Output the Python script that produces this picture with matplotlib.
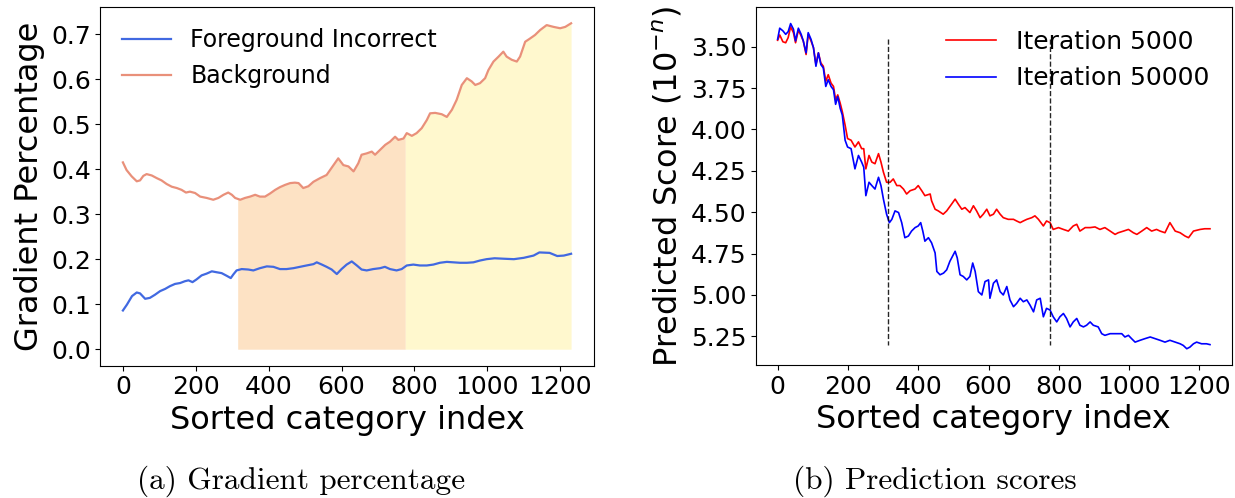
import numpy as np
import matplotlib
matplotlib.use("Agg")
import matplotlib.pyplot as plt
from matplotlib.ticker import FormatStrFormatter

# ---------------- data ----------------
bg_x = [0, 10, 24, 38, 47, 56, 65, 79, 93, 106, 120, 134, 148, 161, 173, 184, 198, 212, 230, 248,
        262, 276, 289, 299, 308, 322, 335, 349, 363, 376, 390, 404, 418, 431, 445, 459, 472, 482, 495, 509,
        523, 541, 559, 578, 591, 605, 619, 633, 646, 655, 669, 683, 692, 706, 720, 733, 747, 756, 770, 779,
        793, 806, 820, 834, 843, 857, 875, 889, 903, 916, 930, 944, 957, 967, 980, 994, 1003, 1017, 1031, 1044,
        1053, 1067, 1081, 1090, 1104, 1117, 1131, 1145, 1163, 1182, 1200, 1214, 1230]
bg_y = [0.415, 0.398, 0.384, 0.373, 0.375, 0.385, 0.389, 0.386, 0.380, 0.375, 0.367, 0.361, 0.358, 0.354, 0.348, 0.350, 0.347, 0.339, 0.336, 0.332,
        0.336, 0.343, 0.348, 0.343, 0.336, 0.332, 0.336, 0.339, 0.343, 0.339, 0.339, 0.346, 0.354, 0.360, 0.365, 0.369, 0.370, 0.369, 0.358, 0.362,
        0.372, 0.380, 0.387, 0.409, 0.424, 0.409, 0.406, 0.395, 0.413, 0.432, 0.435, 0.439, 0.432, 0.443, 0.454, 0.461, 0.472, 0.465, 0.468, 0.480,
        0.474, 0.480, 0.491, 0.509, 0.524, 0.525, 0.522, 0.516, 0.532, 0.554, 0.587, 0.602, 0.595, 0.587, 0.591, 0.602, 0.620, 0.639, 0.650, 0.661,
        0.650, 0.643, 0.639, 0.650, 0.683, 0.690, 0.698, 0.709, 0.720, 0.716, 0.713, 0.716, 0.724]

fg_x = [0, 11, 25, 38, 47, 61, 74, 88, 102, 116, 129, 143, 157, 170, 180, 191, 202, 216, 230, 244,
        257, 271, 285, 296, 303, 312, 326, 344, 358, 376, 395, 413, 431, 449, 468, 486, 504, 523, 532, 546,
        559, 573, 587, 600, 614, 628, 642, 655, 669, 687, 706, 719, 733, 751, 765, 779, 797, 815, 834, 852,
        870, 889, 907, 925, 944, 962, 980, 998, 1020, 1045, 1073, 1100, 1127, 1143, 1171, 1192, 1210, 1230]
fg_y = [0.086, 0.099, 0.118, 0.126, 0.124, 0.112, 0.114, 0.121, 0.129, 0.134, 0.140, 0.145, 0.147, 0.151, 0.153, 0.149, 0.155, 0.164, 0.168, 0.173,
        0.171, 0.169, 0.163, 0.158, 0.166, 0.175, 0.178, 0.177, 0.175, 0.180, 0.184, 0.183, 0.178, 0.178, 0.180, 0.183, 0.186, 0.189, 0.193, 0.188,
        0.183, 0.177, 0.167, 0.178, 0.188, 0.195, 0.186, 0.177, 0.175, 0.178, 0.180, 0.183, 0.178, 0.175, 0.178, 0.186, 0.188, 0.186, 0.186, 0.188,
        0.192, 0.194, 0.193, 0.192, 0.192, 0.193, 0.197, 0.200, 0.202, 0.201, 0.200, 0.203, 0.208, 0.215, 0.214, 0.207, 0.208, 0.212]

region_edges = [315, 775, 1230]

it5k_x = [0, 6, 15, 23, 30, 37, 45, 51, 59, 67, 73, 81, 87, 95, 102, 109, 116, 123, 130, 137,
          144, 152, 159, 165, 171, 178, 184, 192, 199, 209, 220, 230, 239, 245, 251, 260, 268, 277, 287, 294,
          301, 310, 320, 329, 339, 348, 358, 367, 377, 391, 400, 410, 419, 434, 438, 448, 457, 471, 481, 495,
          505, 514, 524, 533, 547, 557, 566, 576, 585, 595, 604, 614, 623, 633, 642, 656, 671, 680, 690, 699,
          709, 723, 732, 742, 756, 765, 775, 784, 799, 813, 827, 841, 851, 860, 875, 889, 903, 917, 931, 946,
          960, 969, 984, 998, 1012, 1022, 1036, 1050, 1064, 1078, 1088, 1102, 1116, 1131, 1145, 1159, 1169, 1183, 1202, 1215,
          1230]
it5k_y = [3.461, 3.429, 3.470, 3.476, 3.445, 3.380, 3.415, 3.476, 3.400, 3.435, 3.465, 3.547, 3.425, 3.465, 3.506, 3.608, 3.537, 3.598, 3.618, 3.709,
          3.669, 3.720, 3.740, 3.821, 3.791, 3.841, 3.892, 3.974, 4.055, 4.065, 4.106, 4.075, 4.116, 4.116, 4.238, 4.157, 4.197, 4.207, 4.146, 4.197,
          4.258, 4.319, 4.319, 4.299, 4.339, 4.339, 4.360, 4.390, 4.370, 4.360, 4.339, 4.370, 4.400, 4.390, 4.431, 4.482, 4.492, 4.512, 4.492, 4.451,
          4.421, 4.451, 4.482, 4.472, 4.502, 4.461, 4.492, 4.533, 4.512, 4.482, 4.522, 4.512, 4.482, 4.512, 4.533, 4.543, 4.543, 4.553, 4.563, 4.553,
          4.543, 4.533, 4.522, 4.543, 4.583, 4.553, 4.563, 4.604, 4.593, 4.604, 4.614, 4.583, 4.573, 4.614, 4.593, 4.593, 4.589, 4.604, 4.593, 4.614,
          4.634, 4.624, 4.614, 4.604, 4.624, 4.634, 4.614, 4.593, 4.614, 4.604, 4.614, 4.624, 4.563, 4.614, 4.624, 4.644, 4.654, 4.614, 4.604, 4.600,
          4.600]

it50k_x = [0, 6, 15, 23, 30, 37, 45, 51, 59, 67, 73, 81, 87, 95, 102, 109, 116, 123, 130, 137,
           144, 152, 159, 165, 171, 178, 184, 192, 199, 209, 220, 230, 239, 245, 251, 260, 268, 277, 287, 294,
           301, 310, 318, 325, 334, 344, 353, 362, 372, 381, 391, 400, 407, 413, 419, 429, 438, 448, 453, 462,
           472, 481, 490, 500, 505, 511, 519, 528, 538, 547, 555, 562, 571, 581, 590, 600, 604, 614, 623, 633,
           642, 652, 661, 671, 680, 690, 699, 709, 718, 728, 737, 747, 756, 765, 775, 784, 794, 803, 813, 822,
           832, 841, 851, 860, 870, 879, 889, 898, 912, 922, 931, 946, 965, 979, 988, 998, 1007, 1017, 1031, 1045,
           1060, 1074, 1088, 1102, 1116, 1131, 1145, 1154, 1164, 1173, 1183, 1192, 1206, 1220, 1230]
it50k_y = [3.455, 3.388, 3.404, 3.425, 3.409, 3.360, 3.394, 3.465, 3.388, 3.425, 3.465, 3.537, 3.415, 3.455, 3.506, 3.618, 3.537, 3.608, 3.628, 3.740,
           3.699, 3.740, 3.760, 3.848, 3.801, 3.872, 3.913, 4.065, 4.106, 4.116, 4.238, 4.157, 4.197, 4.228, 4.400, 4.319, 4.339, 4.360, 4.289, 4.339,
           4.421, 4.512, 4.563, 4.543, 4.492, 4.502, 4.563, 4.654, 4.644, 4.614, 4.593, 4.583, 4.563, 4.614, 4.675, 4.654, 4.685, 4.746, 4.858, 4.878,
           4.868, 4.848, 4.797, 4.756, 4.736, 4.776, 4.878, 4.888, 4.909, 4.888, 4.807, 4.858, 4.980, 5.000, 4.919, 4.909, 5.020, 4.929, 4.909, 4.980,
           5.000, 4.949, 5.030, 5.071, 5.051, 5.020, 5.041, 5.030, 5.061, 5.102, 5.030, 5.020, 5.132, 5.081, 5.091, 5.132, 5.163, 5.132, 5.112, 5.142,
           5.193, 5.163, 5.142, 5.183, 5.193, 5.183, 5.163, 5.183, 5.193, 5.234, 5.244, 5.234, 5.234, 5.234, 5.254, 5.244, 5.264, 5.285, 5.274, 5.264,
           5.254, 5.264, 5.274, 5.285, 5.274, 5.285, 5.295, 5.305, 5.325, 5.315, 5.295, 5.285, 5.295, 5.295, 5.300]

vline_x = [315, 775]
vline_span = [3.455, 5.305]

left_xticks = [0, 200, 400, 600, 800, 1000, 1200]
left_yticks = [0.0, 0.1, 0.2, 0.3, 0.4, 0.5, 0.6, 0.7]
right_yticks = [3.50, 3.75, 4.00, 4.25, 4.50, 4.75, 5.00, 5.25]

# ---------------- figure ----------------
W, H = 1235, 498
fig = plt.figure(figsize=(W / 100, H / 100), dpi=100)

ax1 = fig.add_axes([100.5 / W, 1 - 365.5 / H, 493 / W, 358.5 / H])
ax2 = fig.add_axes([756 / W, 1 - 365 / H, 475.6 / W, 357.7 / H])

# left panel
bgx = np.array(bg_x, float)
bgy = np.array(bg_y, float)
fill_colors = ['#FDE2C4', '#FFF8CE']
for (a, b), col in zip(zip(region_edges[:-1], region_edges[1:]), fill_colors):
    xs = np.concatenate([[a], bgx[(bgx > a) & (bgx < b)], [b]])
    ys = np.interp(xs, bgx, bgy)
    ax1.fill_between(xs, 0, ys, color=col, lw=0, zorder=0)

ax1.plot(fg_x, fg_y, color='royalblue', lw=1.6, label='Foreground Incorrect')
ax1.plot(bg_x, bg_y, color='#E9907A', lw=1.6, label='Background')
ax1.set_xticks(left_xticks)
ax1.set_yticks(left_yticks)
ax1.yaxis.set_major_formatter(FormatStrFormatter('%.1f'))
ax1.tick_params(labelsize=18)
ax1.set_xlabel('Sorted category index', fontsize=23)
ax1.set_ylabel('Gradient Percentage', fontsize=23)
ax1.legend(loc='upper left', frameon=False, fontsize=17, handlelength=2.1)

# right panel
ax2.plot(it5k_x, it5k_y, color='red', lw=1.2, label='Iteration 5000')
ax2.plot(it50k_x, it50k_y, color='blue', lw=1.2, label='Iteration 50000')
ax2.vlines(vline_x, vline_span[0], vline_span[1], colors='black', linestyles='--', lw=1.0, alpha=0.85)
ax2.set_xticks(left_xticks)
ax2.set_yticks(right_yticks)
ax2.yaxis.set_major_formatter(FormatStrFormatter('%.2f'))
ax2.invert_yaxis()
ax2.tick_params(labelsize=18)
ax2.set_xlabel('Sorted category index', fontsize=23)
ax2.set_ylabel(r'Predicted Score ($10^{-n}$)', fontsize=23)
ax2.legend(loc='upper right', frameon=False, fontsize=18, handlelength=2.0)

# captions
fig.text(301 / W, 1 - 489 / H, '(a) Gradient percentage', family='cmr10', fontsize=22.5,
         ha='center', va='baseline')
fig.text(935 / W, 1 - 489 / H, '(b) Prediction scores', family='cmr10', fontsize=22.5,
         ha='center', va='baseline')

fig.savefig('out.png', dpi=100)
